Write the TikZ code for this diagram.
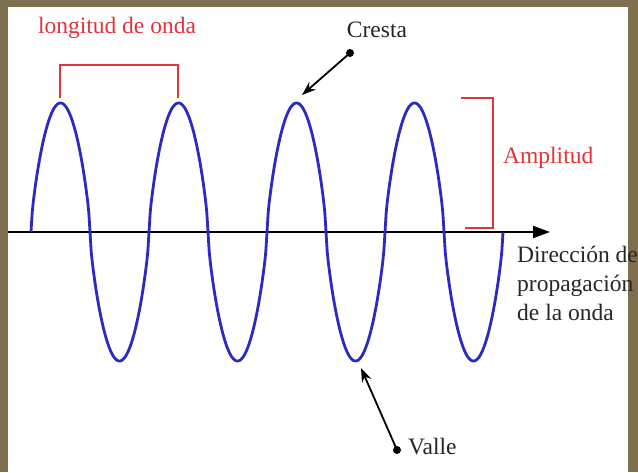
\documentclass[tikz,border=0pt]{standalone}
\usepackage{fontspec}
\setmainfont{Liberation Serif}
\usetikzlibrary{arrows.meta,positioning}
\definecolor{waveBlue}{HTML}{2B2BC4}
\definecolor{waveRed}{HTML}{E2343E}
\definecolor{frameBrown}{HTML}{7F6F4E}

\begin{document}
\begin{tikzpicture}[x=1pt,y=-1pt,
  declare function={wv(\t)=sign(sin(\t))*(abs(sin(\t))+0.000001)^0.7;},
  label text/.style={inner sep=0pt, text=black!85, font=\fontsize{23.5}{29}\selectfont},
  red text/.style={label text, text=waveRed},
  marker/.style={draw=waveRed, line width=2.4pt},
  pointer/.style={draw=black, line width=1.8pt, -{Stealth[length=14pt,width=10pt]}},
  axis line/.style={draw=black, line width=2pt, -{Triangle[length=17pt,width=12pt]}},
  wave line/.style={draw=waveBlue, line width=2.8pt},
]
% frame
\fill[frameBrown] (0,0) rectangle (638,472);
\fill[white] (8,7) rectangle (628,472);
\useasboundingbox (0,0) rectangle (638,472);

% axis and wave
\coordinate (axisStart) at (8,232);
\coordinate (axisEnd) at (550,232);
\draw[axis line] (axisStart) -- (axisEnd);
\draw[wave line] plot[domain=31:503, samples=401, smooth]
  (\x, {232 - 129*wv((\x-31)/118*360)});

% wavelength bracket
\coordinate (peakA) at (60,98);
\coordinate (peakB) at (178,98);
\draw[marker] (peakA) -- (60,65) -- (178,65) -- (peakB);
\node[red text] (lambda) at (117,28) {longitud de onda};

% amplitude bracket
\coordinate (ampTop) at (461,98);
\coordinate (ampBottom) at (465,228);
\draw[marker] (ampTop) -- (493,98) -- (493,228) -- (ampBottom);
\node[red text, anchor=west] (amp) at (503,158) {Amplitud};

% crest
\node[label text] (crest) at (377,30) {Cresta};
\coordinate (crestDot) at (350,53);
\coordinate (crestTip) at (302,95);
\fill (crestDot) circle (4pt);
\draw[pointer] (crestDot) -- (crestTip);

% trough
\node[label text, anchor=west] (trough) at (408,447) {Valle};
\coordinate (troughDot) at (397,450);
\coordinate (troughTip) at (361,368);
\fill (troughDot) circle (4pt);
\draw[pointer] (troughDot) -- (troughTip);

% direction
\node[label text, anchor=west, align=left] (direction) at (517,283)
  {Dirección de\\propagación\\de la onda};
\end{tikzpicture}
\end{document}
